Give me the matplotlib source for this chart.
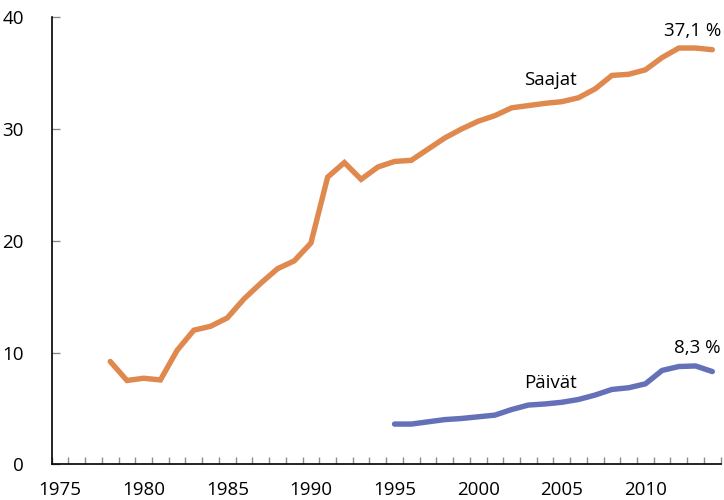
import numpy as np
import matplotlib
matplotlib.use('Agg')
import matplotlib.pyplot as plt
from matplotlib.ticker import FixedLocator

plt.rcParams['font.family'] = ['Open Sans', 'DejaVu Sans']

# Saajat: 1978-2014
saajat_years = list(range(1978, 2015))
saajat = [9.2, 7.5, 7.7, 7.55, 10.2, 12.0, 12.35, 13.1, 14.8, 16.2,
          17.5, 18.2, 19.8, 25.7, 27.0, 25.5, 26.6, 27.1, 27.2, 28.2,
          29.2, 30.0, 30.7, 31.2, 31.9, 32.1, 32.3, 32.45, 32.8, 33.6,
          34.8, 34.9, 35.3, 36.4, 37.25, 37.25, 37.1]

# Päivät: 1995-2014
paivat_years = list(range(1995, 2015))
paivat = [3.6, 3.6, 3.8, 4.0, 4.1, 4.25, 4.4, 4.9, 5.3, 5.4,
          5.55, 5.8, 6.2, 6.7, 6.85, 7.2, 8.4, 8.75, 8.8, 8.3]

x_labels = [1975, 1980, 1985, 1990, 1995, 2000, 2005, 2010]
y_ticks = [0, 10, 20, 30, 40]

orange = '#e0894f'
blue = '#6470b8'
tick_gray = '#8c8c8c'

fig = plt.figure(figsize=(7.24, 5.00), dpi=100)
ax = fig.add_axes([0.0714, 0.0714, 0.924, 0.894])

ax.plot(saajat_years, saajat, color=orange, lw=3.9, solid_capstyle='round',
        solid_joinstyle='miter')
ax.plot(paivat_years, paivat, color=blue, lw=3.9, solid_capstyle='round',
        solid_joinstyle='miter')

ax.set_xlim(1974.5, 2014.5)
ax.set_ylim(0, 40)

# x: labels at year centres, small ticks at year boundaries
ax.set_xticks(x_labels)
ax.set_xticklabels([str(v) for v in x_labels])
ax.xaxis.set_minor_locator(FixedLocator(np.arange(1974.5, 2015, 1)))
ax.tick_params(axis='x', which='major', length=0, pad=12, labelsize=13.5)
ax.tick_params(axis='x', which='minor', direction='in', length=5,
               width=1, color=tick_gray)

ax.set_yticks(y_ticks)
ax.tick_params(axis='y', direction='in', length=6, width=1, color=tick_gray,
               pad=20, labelsize=13.5)

for side in ['top', 'right']:
    ax.spines[side].set_visible(False)
for side in ['left', 'bottom']:
    ax.spines[side].set_linewidth(1.2)
    ax.spines[side].set_color('black')

ax.text(2004.3, 34.4, 'Saajat', fontsize=13.5, ha='center', va='center')
ax.text(2012.8, 38.8, '37,1 %', fontsize=13.5, ha='center', va='center')
ax.text(2004.3, 7.25, 'Päivät', fontsize=13.5, ha='center', va='center')
ax.text(2013.1, 10.4, '8,3 %', fontsize=13.5, ha='center', va='center')

fig.savefig('out.png', dpi=100)
